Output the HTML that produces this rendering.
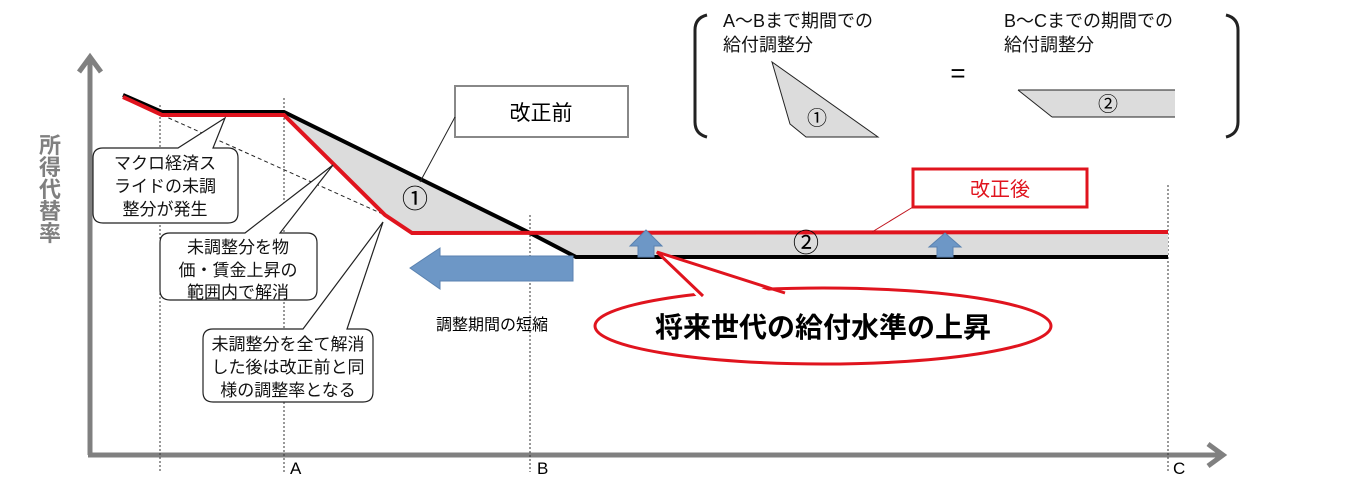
<!DOCTYPE html>
<html><head><meta charset="utf-8"><style>
html,body{margin:0;padding:0;background:#fff;}
svg{display:block;}
text{font-family:"Liberation Sans","Noto Sans CJK JP",sans-serif;}
</style></head><body>
<svg width="1350" height="480" viewBox="0 0 1350 480" xmlns="http://www.w3.org/2000/svg">
<line x1="90" y1="58" x2="90" y2="455" stroke="#808080" stroke-width="5"/>
<polyline points="79,72 90,57 101,72" fill="none" stroke="#808080" stroke-width="5"/>
<line x1="88" y1="455" x2="1222" y2="455" stroke="#808080" stroke-width="5"/>
<polyline points="1208,444 1223,455 1208,466" fill="none" stroke="#808080" stroke-width="5"/>
<text x="50" y="135" font-size="22" font-weight="bold" fill="#808080" text-anchor="middle">
<tspan x="50" dy="18">所</tspan><tspan x="50" dy="22">得</tspan><tspan x="50" dy="22">代</tspan><tspan x="50" dy="22">替</tspan><tspan x="50" dy="22">率</tspan></text>
<g stroke="#333" stroke-width="1" stroke-dasharray="2,2">
<line x1="160" y1="105" x2="160" y2="472"/>
<line x1="284" y1="98" x2="284" y2="472"/>
<line x1="530" y1="215" x2="530" y2="472"/>
<line x1="1168" y1="185" x2="1168" y2="472"/>
</g>
<text x="290" y="474" font-size="17">A</text>
<text x="537" y="474" font-size="17">B</text>
<text x="1173" y="474" font-size="17">C</text>
<polygon points="284,112 528,232 412,233 385,215 284,114" fill="#dcdcdc"/>
<polygon points="528,232 1168,232 1168,257 576,257" fill="#dcdcdc"/>
<line x1="162" y1="115" x2="385" y2="215" stroke="#222" stroke-width="1" stroke-dasharray="4,3"/>
<polyline points="123,95 162,112 284,112 528,232 576,257 1168,257" fill="none" stroke="#000" stroke-width="4"/>
<polyline points="123,97 162,115 284,115 385,215 412,233 1168,232" fill="none" stroke="#e0141e" stroke-width="4"/>
<text x="415" y="208" font-size="26" text-anchor="middle">①</text>
<text x="806" y="252" font-size="26" text-anchor="middle">②</text>
<rect x="455" y="86" width="173" height="51" fill="#fff" stroke="#888" stroke-width="2"/>
<text x="541" y="120" font-size="21" text-anchor="middle">改正前</text>
<line x1="455" y1="117" x2="420" y2="182" stroke="#222" stroke-width="1"/>
<rect x="913" y="169" width="174" height="38" fill="#fff" stroke="#e0141e" stroke-width="3"/>
<text x="1000" y="196" font-size="20" fill="#e0141e" text-anchor="middle">改正後</text>
<line x1="913" y1="207" x2="872" y2="232" stroke="#c0141e" stroke-width="1"/>
<g fill="#fff" stroke="#222" stroke-width="1.2">
<path d="M103,148 L178,148 L225,118 L213,148 L228,148 Q238,148 238,158 L238,213 Q238,223 228,223 L103,223 Q93,223 93,213 L93,158 Q93,148 103,148 Z"/>
<path d="M170,233 L245,233 L333,165 L280,233 L307,233 Q317,233 317,243 L317,290 Q317,300 307,300 L170,300 Q160,300 160,290 L160,243 Q160,233 170,233 Z"/>
<path d="M213,329 L303,329 L383,222 L347,329 L363,329 Q373,329 373,339 L373,392 Q373,402 363,402 L213,402 Q203,402 203,392 L203,339 Q203,329 213,329 Z"/>
</g>
<g font-size="17" text-anchor="middle" fill="#111">
<text x="165" y="169">マクロ経済ス</text><text x="165" y="192">ライドの未調</text><text x="165" y="215">整分が発生</text>
<text x="238" y="253">未調整分を物</text><text x="238" y="276">価・賃金上昇の</text><text x="238" y="298">範囲内で解消</text>
<text x="288" y="350">未調整分を全て解消</text><text x="288" y="373">した後は改正前と同</text><text x="288" y="396">様の調整率となる</text>
</g>
<polygon points="410,268 440,248 440,256 573,256 573,281 440,281 440,289" fill="#6d97c6" stroke="#5a82b0"/>
<text x="492" y="330" font-size="16" text-anchor="middle">調整期間の短縮</text>
<polygon points="646,230 662,246 654,246 654,257 638,257 638,246 630,246" fill="#6d97c6" stroke="#5a82b0"/>
<polygon points="945,233 961,247 953,247 953,257 937,257 937,247 929,247" fill="#6d97c6" stroke="#5a82b0"/>
<ellipse cx="823" cy="326" rx="228" ry="38" fill="#fff" stroke="#e0141e" stroke-width="3"/>
<polygon points="700,300 657,252 790,298" fill="#fff" stroke="none"/>
<polyline points="703,296 657,252 785,293" fill="none" stroke="#e0141e" stroke-width="3"/>
<text x="823" y="337" font-size="28" font-weight="bold" text-anchor="middle">将来世代の給付水準の上昇</text>
<path d="M707,15 Q695,18 695,30 L695,122 Q695,134 707,137" fill="none" stroke="#222" stroke-width="3"/>
<path d="M1226,15 Q1238,18 1238,30 L1238,122 Q1238,134 1226,137" fill="none" stroke="#222" stroke-width="3"/>
<g font-size="18" fill="#111">
<text x="723" y="27">A～Bまで期間での</text><text x="723" y="51">給付調整分</text>
<text x="1004" y="27">B～Cまでの期間での</text><text x="1004" y="51">給付調整分</text>
</g>
<text x="958" y="82" font-size="26" text-anchor="middle">=</text>
<polygon points="772,62 790,124 806,137 878,137" fill="#dcdcdc" stroke="#222" stroke-width="1"/>
<text x="817" y="125" font-size="20" text-anchor="middle">①</text>
<polygon points="1018,90 1175,90 1175,117 1052,117" fill="#dcdcdc" stroke="none"/>
<line x1="1018" y1="90" x2="1175" y2="90" stroke="#222"/>
<line x1="1018" y1="90" x2="1052" y2="117" stroke="#222"/>
<line x1="1052" y1="117" x2="1175" y2="117" stroke="#222"/>
<text x="1108" y="111" font-size="20" text-anchor="middle">②</text>
</svg>
</body></html>
